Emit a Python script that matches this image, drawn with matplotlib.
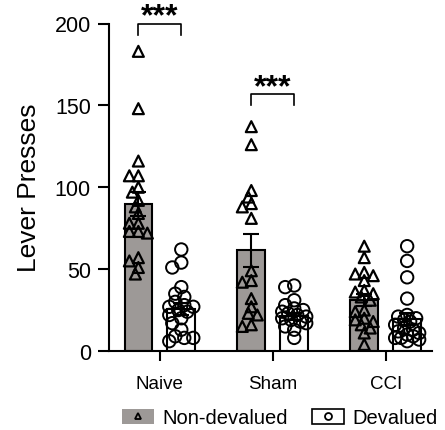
import numpy as np
import matplotlib
matplotlib.use("Agg")
import matplotlib.pyplot as plt
from matplotlib.patches import Patch
from matplotlib.lines import Line2D

plt.rcParams['font.family'] = ['Liberation Sans', 'DejaVu Sans']

groups = ["Naive", "Sham", "CCI"]
series = ["Non-devalued", "Devalued"]

mean_nondev = [89.8, 61.4, 31.0]
sem_nondev = [7.3, 10.0, 3.6]
mean_dev = [25.8, 21.3, 19.5]
sem_dev = [3.6, 2.2, 3.8]

naive_nondev = [183, 148, 116, 107, 107, 100, 97, 92, 88, 84, 78, 78, 73, 73, 72, 57, 55, 51, 47]
naive_dev = [62, 54, 51, 39, 35, 33, 30, 28, 27, 27, 25, 24, 22, 20, 17, 13, 9, 8, 8, 6]
sham_nondev = [137, 126, 98, 94, 90, 88, 81, 49, 43, 42, 32, 27, 23, 22, 16, 15]
sham_dev = [40, 39, 31, 28, 26, 25, 24, 23, 22, 21, 20, 19, 18, 17, 15, 13, 8]
cci_nondev = [64, 57, 48, 47, 46, 43, 37, 36, 35, 33, 31, 25, 24, 20, 19, 18, 16, 14, 11, 4]
cci_dev = [64, 55, 45, 32, 22, 21, 20, 19, 18, 16, 14, 13, 12, 11, 10, 9, 8, 8, 7, 6]

points_nondev = [naive_nondev, sham_nondev, cci_nondev]
points_dev = [naive_dev, sham_dev, cci_dev]

sig_pairs = [0, 1]          # groups with significance bracket
sig_heights = [193, 150]    # bracket leg bottom
sig_label = "***"

bar_color = "#9d9997"
W, H = 445, 431
fig = plt.figure(figsize=(W / 100, H / 100), dpi=100)
ax = fig.add_axes([109 / W, 1 - 352 / H, (432 - 109) / W, (352 - 24.5) / H])

x = np.arange(len(groups))
off = 0.19
bw = 0.245

# px conversion for swarm
px_per_x = 113.0
px_per_y = (352 - 24.5) / 200.0


def swarm(vals, diam_px=7.0, step_px=3.0, max_steps=4):
    placed = []
    offs = np.zeros(len(vals))
    order = np.argsort(vals)[::-1]
    cand = [0.0]
    for j in range(1, max_steps + 1):
        cand += [-j * step_px, j * step_px]
    for i in order:
        y = vals[i] * px_per_y
        best, best_d = 0.0, -1.0
        for c in cand:
            d = min([np.hypot(px - c, py - y) for (px, py) in placed] + [1e9])
            if d >= diam_px:
                best = c
                break
            if d > best_d:
                best, best_d = c, d
        placed.append((best, y))
        offs[i] = best / px_per_x
    return offs


ax.bar(x - off, mean_nondev, bw, color=bar_color, edgecolor="black", linewidth=1.5, zorder=2)
ax.bar(x + off, mean_dev, bw, color="white", edgecolor="black", linewidth=1.5, zorder=2)
ax.errorbar(x - off, mean_nondev, yerr=sem_nondev, fmt="none", ecolor="black",
            elinewidth=1.5, capsize=6, capthick=1.5, zorder=3)
ax.errorbar(x + off, mean_dev, yerr=sem_dev, fmt="none", ecolor="black",
            elinewidth=1.5, capsize=6, capthick=1.5, zorder=3)

for gi in range(len(groups)):
    v = np.array(points_nondev[gi], dtype=float)
    ax.scatter(x[gi] - off + swarm(v), v, marker="^", s=62, facecolors="none",
               edgecolors="black", linewidths=1.6, zorder=4, clip_on=False)
    v = np.array(points_dev[gi], dtype=float)
    ax.scatter(x[gi] + off + swarm(v, diam_px=8.0), v, marker="o", s=80, facecolors="none",
               edgecolors="black", linewidths=1.4, zorder=4, clip_on=False)

for gi, h in zip(sig_pairs, sig_heights):
    top = h + 6.8
    ax.plot([x[gi] - off, x[gi] - off, x[gi] + off, x[gi] + off], [h, top, top, h],
            color="black", linewidth=1.2, clip_on=False)
    ax.text(x[gi], top - 0.5, sig_label, ha="center", va="baseline", fontsize=23,
            fontweight="bold", clip_on=False)

ax.set_xlim(-0.45, 2.41)
ax.set_ylim(0, 200)
ax.set_yticks([0, 50, 100, 150, 200])
ax.set_xticks(x)
ax.set_xticklabels(groups, fontsize=13.5)
ax.tick_params(axis="y", labelsize=15.5, length=8, width=1.5, pad=5)
ax.tick_params(axis="x", length=7, width=1.5, pad=10)
ax.set_ylabel("Lever Presses", fontsize=19, labelpad=10)
for s in ["top", "right"]:
    ax.spines[s].set_visible(False)
for s in ["left", "bottom"]:
    ax.spines[s].set_linewidth(1.5)

h1 = (Patch(facecolor=bar_color, edgecolor="none"),
      Line2D([], [], marker="^", color="black", linestyle="none", markersize=5,
             markerfacecolor="none", markeredgewidth=1.3))
h2 = (Patch(facecolor="white", edgecolor="black", linewidth=1.2),
      Line2D([], [], marker="o", color="black", linestyle="none", markersize=5,
             markerfacecolor="none", markeredgewidth=1.3))
fig.legend([h1, h2], series, loc="center", bbox_to_anchor=(280 / W, 1 - 419 / H),
           ncol=2, frameon=False, fontsize=14.5, handlelength=1.6, handleheight=0.7,
           columnspacing=1.2, handletextpad=0.4, borderpad=0)

fig.savefig("out.png", dpi=100)
